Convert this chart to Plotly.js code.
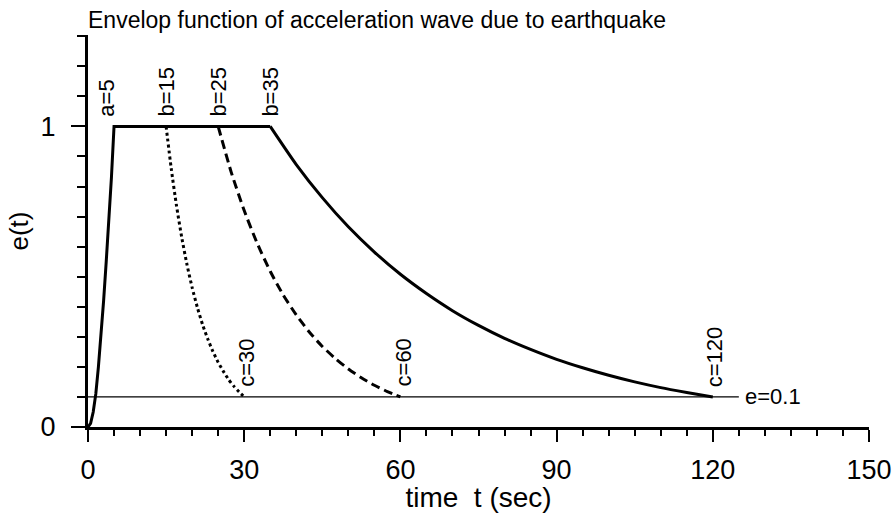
<!DOCTYPE html>
<html>
<head>
<meta charset="utf-8">
<script src="https://cdn.plot.ly/plotly-3.0.1.min.js"></script>
<style>html,body{margin:0;padding:0;background:#fff;}#chart{width:892px;height:513px;}</style>
</head>
<body>
<div id="chart"></div>
<script>
// Rise + plateau (solid) : a = 5, plateau to b = 35
const riseT = [0, 0.5, 1, 1.5, 2, 2.5, 3, 3.5, 4, 4.5, 5, 35];
const riseE = [0, 0.012, 0.05, 0.11, 0.2, 0.3, 0.42, 0.55, 0.68, 0.83, 1, 1];
// Decay b=35 -> c=120 (solid)
const decay120T = [35, 40, 45, 50, 55, 60, 65, 70, 75, 80, 85, 90, 95, 100, 105, 110, 115, 120];
const decay120E = [1, 0.873, 0.763, 0.666, 0.582, 0.508, 0.444, 0.387, 0.338, 0.295, 0.258, 0.225, 0.197, 0.172, 0.150, 0.131, 0.115, 0.1];
// Decay b=15 -> c=30 (dotted)
const decay30T = [15, 16, 17, 18, 19, 20, 21, 22, 23, 24, 25, 26, 27, 28, 29, 30];
const decay30E = [1, 0.858, 0.736, 0.631, 0.541, 0.464, 0.398, 0.341, 0.293, 0.251, 0.215, 0.185, 0.158, 0.136, 0.117, 0.1];
// Decay b=25 -> c=60 (dashed)
const decay60T = [25, 27.5, 30, 32.5, 35, 37.5, 40, 42.5, 45, 47.5, 50, 52.5, 55, 57.5, 60];
const decay60E = [1, 0.848, 0.720, 0.611, 0.518, 0.439, 0.373, 0.316, 0.268, 0.228, 0.193, 0.164, 0.139, 0.118, 0.1];
// Reference level e = 0.1
const refT = [0, 125];
const refE = [0.1, 0.1];

// Labels
const topLabels = ["a=5", "b=15", "b=25", "b=35"];
const topLabelT = [3.6, 15, 25, 35];
const bottomLabels = ["c=30", "c=60", "c=120"];
const bottomLabelT = [30.5, 60.6, 120.4];

const FONT = "Liberation Sans, Arial, Helvetica, sans-serif";

const traces = [
  {x: refT, y: refE, mode: "lines", line: {color: "#000", width: 1.3}, hoverinfo: "skip"},
  {x: riseT, y: riseE, mode: "lines", line: {color: "#000", width: 3}, hoverinfo: "skip"},
  {x: decay120T, y: decay120E, mode: "lines", line: {color: "#000", width: 3, shape: "spline", smoothing: 0.6}, hoverinfo: "skip"},
  {x: decay30T, y: decay30E, mode: "lines", line: {color: "#000", width: 3, dash: "3px,3px", shape: "spline", smoothing: 0.6}, hoverinfo: "skip"},
  {x: decay60T, y: decay60E, mode: "lines", line: {color: "#000", width: 3, dash: "9px,5px", shape: "spline", smoothing: 0.6}, hoverinfo: "skip"}
];

const annotations = [];
topLabels.forEach((t, i) => annotations.push({
  x: topLabelT[i], y: 1, xref: "x", yref: "y", text: t, showarrow: false,
  textangle: -90, xanchor: "center", yanchor: "bottom", yshift: 8,
  font: {family: FONT, size: 22, color: "#000"}
}));
bottomLabels.forEach((t, i) => annotations.push({
  x: bottomLabelT[i], y: 0.1, xref: "x", yref: "y", text: t, showarrow: false,
  textangle: -90, xanchor: "center", yanchor: "bottom", yshift: 8,
  font: {family: FONT, size: 22, color: "#000"}
}));
annotations.push({
  x: 125, y: 0.1, xref: "x", yref: "y", text: "e=0.1", showarrow: false,
  xanchor: "left", yanchor: "middle", xshift: 4,
  font: {family: FONT, size: 22, color: "#000"}
});

const layout = {
  width: 892, height: 513,
  margin: {l: 88, r: 23, t: 35, b: 86},
  paper_bgcolor: "#fff", plot_bgcolor: "#fff",
  showlegend: false,
  font: {family: FONT, color: "#000"},
  title: {
    text: "Envelop function of acceleration wave due to earthquake",
    x: 88 / 892, xref: "container", xanchor: "left",
    y: 1 - 20 / 513, yref: "container", yanchor: "middle",
    font: {family: FONT, size: 23, color: "#000"}
  },
  xaxis: {
    range: [0, 150], tick0: 0, dtick: 30,
    showgrid: false, zeroline: false,
    showline: true, linecolor: "#000", linewidth: 3,
    ticks: "outside", ticklen: 12, tickwidth: 2, tickcolor: "#000",
    ticklabelstandoff: 5,
    tickfont: {family: FONT, size: 27, color: "#000"},
    minor: {dtick: 5, tick0: 0, ticks: "outside", ticklen: 6, tickwidth: 2, tickcolor: "#000", showgrid: false},
    title: {text: "time  t (sec)", standoff: 0, font: {family: FONT, size: 28, color: "#000"}},
    fixedrange: true
  },
  yaxis: {
    range: [0, 1.304], tick0: 0, dtick: 1,
    showgrid: false, zeroline: false,
    showline: true, linecolor: "#000", linewidth: 3,
    ticks: "outside", ticklen: 14, tickwidth: 2, tickcolor: "#000",
    ticklabelstandoff: 10,
    tickfont: {family: FONT, size: 27, color: "#000"},
    minor: {dtick: 0.1, tick0: 0, ticks: "outside", ticklen: 8, tickwidth: 2, tickcolor: "#000", showgrid: false},
    title: {text: "e(t)", standoff: 5, font: {family: FONT, size: 26, color: "#000"}},
    fixedrange: true
  },
  annotations: annotations
};

Plotly.newPlot("chart", traces, layout, {displayModeBar: false, staticPlot: true});
</script>
</body>
</html>
